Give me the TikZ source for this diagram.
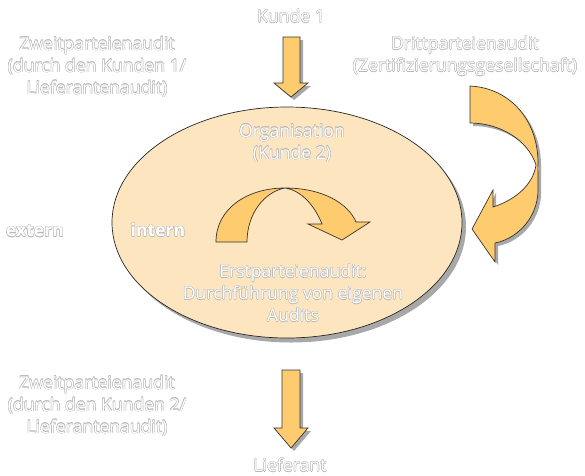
\documentclass[tikz,border=0pt]{standalone}
\usepackage{fontspec}
\setmainfont{Open Sans}
\definecolor{olc}{HTML}{B8B8B8}
\definecolor{arrfill}{HTML}{FECB6F}
\definecolor{ellfill}{HTML}{FDE6BF}
\definecolor{shad}{HTML}{A8A8A8}
\newcommand{\olt}[1]{{\def\oo##1##2{\rlap{\hspace*{##1}\raisebox{##2}{\textcolor{olc}{#1}}}}%
\oo{.45pt}{0pt}\oo{-.45pt}{0pt}\oo{0pt}{.45pt}\oo{0pt}{-.45pt}%
\oo{.32pt}{.32pt}\oo{-.32pt}{.32pt}\oo{.32pt}{-.32pt}\oo{-.32pt}{-.32pt}%
\textcolor{white}{#1}}}
\begin{document}
\begin{tikzpicture}[x=1pt,y=-1pt,
  lbl/.style={align=center,font=\fontsize{17.6}{22}\selectfont,inner sep=0pt},
  blbl/.style={font=\fontsize{17.6}{22}\selectfont\bfseries,inner sep=0pt},
  arr/.style={fill=arrfill,draw=black!80,line width=0.7pt,line join=miter},
  sh/.style={fill=shad,draw=none}]
\useasboundingbox (0,0) rectangle (585,475);
% ellipse
\fill[shad] (291,227) ellipse [x radius=175,y radius=115.5];
\draw[fill=ellfill,draw=black!85,line width=0.7pt] (287,222.5) ellipse [x radius=175,y radius=115.5];
% shadows of arrows
\begin{scope}[shift={(3,3)}]
\fill[shad] (283,37) -- (300,37) -- (300,83) -- (308,83) -- (291,97) -- (274,83) -- (283,83) -- cycle;
\fill[shad] (282,370) -- (300,370) -- (300,428) -- (308,428) -- (291,448) -- (274,428) -- (282,428) -- cycle;
\fill[shad] (470,86) .. controls (510,88) and (538,120) .. (538,163) -- (538,190) .. controls (538,215) and (520,238) .. (495,243) -- (495,262) -- (472,229) -- (493,190) -- (493,207) .. controls (515,200) and (533,185) .. (536,165) .. controls (528,140) and (500,123) .. (470,123) -- cycle;
\end{scope}
\draw[arr] (283,37) -- (300,37) -- (300,83) -- (308,83) -- (291,97) -- (274,83) -- (283,83) -- cycle;
\draw[arr] (282,370) -- (300,370) -- (300,428) -- (308,428) -- (291,448) -- (274,428) -- (282,428) -- cycle;
\draw[arr] (470,86) .. controls (510,88) and (538,120) .. (538,163) -- (538,190) .. controls (538,215) and (520,238) .. (495,243) -- (495,262) -- (472,229) -- (493,190) -- (493,207) .. controls (515,200) and (533,185) .. (536,165) .. controls (528,140) and (500,123) .. (470,123) -- cycle;
% inner curved arrow
\draw[arr] (216,242) .. controls (216,208) and (248,188) .. (285,188)
  .. controls (322,188) and (348,203) .. (356,222) -- (370,222) -- (342,240) -- (308,224) -- (322,224)
  .. controls (314,204) and (300,190) .. (285,188)
  .. controls (264,192) and (247,214) .. (247,242) -- cycle;
% texts
\node[lbl] (k1) at (291,16) {\olt{Kunde 1}};
\node[lbl] (zw1) at (97,67) {\olt{Zweitparteienaudit}\\\olt{(durch den Kunden 1/}\\\olt{Lieferantenaudit)}};
\node[lbl] (dr) at (465,56) {\olt{Drittparteienaudit}\\\olt{(Zertifizierungsgesellschaft)}};
\node[lbl] (org) at (292,143) {\olt{Organisation}\\\olt{(Kunde 2)}};
\node[blbl] (int) at (158,230) {\olt{intern}};
\node[blbl] (ext) at (35,231) {\olt{extern}};
\node[lbl] (erst) at (293,293) {\olt{Erstparteienaudit:}\\\olt{Durchführung von eigenen}\\\olt{Audits}};
\node[lbl] (zw2) at (97,406) {\olt{Zweitparteienaudit}\\\olt{(durch den Kunden 2/}\\\olt{Lieferantenaudit)}};
\node[lbl] (lief) at (290,465) {\olt{Lieferant}};
\end{tikzpicture}
\end{document}
